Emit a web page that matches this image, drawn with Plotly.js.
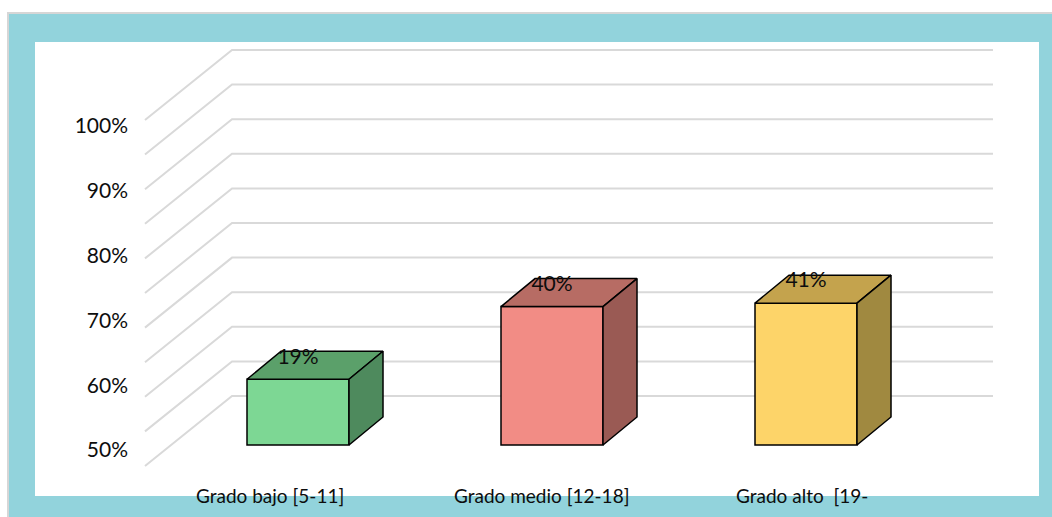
<!DOCTYPE html>
<html>
<head>
<meta charset="utf-8">
<script src="https://cdn.plot.ly/plotly-3.0.1.min.js"></script>
<style>
  html, body { margin: 0; padding: 0; background: #ffffff; }
  #chart { width: 1052px; height: 517px; }
</style>
</head>
<body>
<div id="chart"></div>
<script>
// ---- data ----
const categories = ["Grado bajo [5-11]", "Grado medio [12-18]", "Grado alto \u00a0[19-"];
const values = [19, 40, 41];
const valueLabels = ["19%", "40%", "41%"];
const gridValues = [0, 10, 20, 30, 40, 50, 60, 70, 80, 90, 100];
const yTickValues = [50, 60, 70, 80, 90, 100];
const yTickLabels = ["50%", "60%", "70%", "80%", "90%", "100%"];

// ---- style ----
const frontColors = ["#7DD794", "#F28C85", "#FDD469"];
const topColors   = ["#5BA06A", "#B76C64", "#C4A34D"];
const sideColors  = ["#4E8A5D", "#9A5A54", "#A08940"];
const FONT = "Lato, 'Open Sans', sans-serif";
const TEXT = "#0d0d0d";

const W = 1052, H = 517;
const M = {l: 140, r: 52, t: 40, b: 47};
const plotW = W - M.l - M.r, plotH = H - M.t - M.b;
const XR = [-0.62205, 2.76378];
const YR = [-7.225, 117.05];
const HALF = 0.2008;           // half bar width (category units)
const DX = 0.1339, DY = 8.092; // 3D depth offset
const WALL_X0 = -0.2598, WALL_X1 = 2.7362, WALL_DY = 14.162;
const FLOOR_X0 = -0.6024, FLOOR_DY = -6.069;
const LABEL_DY = 6.07;
const catLabelShift = [-0.110, -0.043, -0.016];

function paperX(px) { return (px - M.l) / plotW; }
function paperY(py) { return (H - M.b - py) / plotH; }

const traces = [];

// front faces
traces.push({type: "bar", x: categories.map((c, i) => i), y: values, base: 0,
  width: 2 * HALF, marker: {color: frontColors, line: {color: "#000000", width: 1.5}},
  hoverinfo: "skip"});

// top and side faces
values.forEach((v, i) => {
  traces.push({type: "scatter", mode: "lines", fill: "toself", fillcolor: topColors[i],
    x: [i - HALF, i + HALF, i + HALF + DX, i - HALF + DX, i - HALF],
    y: [v, v, v + DY, v + DY, v],
    line: {color: "#000000", width: 1.5}, hoverinfo: "skip"});
  traces.push({type: "scatter", mode: "lines", fill: "toself", fillcolor: sideColors[i],
    x: [i + HALF, i + HALF + DX, i + HALF + DX, i + HALF, i + HALF],
    y: [0, DY, v + DY, v, 0],
    line: {color: "#000000", width: 1.5}, hoverinfo: "skip"});
});

// data labels
traces.push({type: "scatter", mode: "text", x: values.map((v, i) => i),
  y: values.map(v => v + LABEL_DY), text: valueLabels,
  textposition: "middle center", textfont: {family: FONT, size: 21, color: TEXT},
  hoverinfo: "skip"});

// invisible trace for the label axis
traces.push({type: "scatter", mode: "markers", x: [0], y: [50], yaxis: "y2",
  marker: {opacity: 0}, hoverinfo: "skip"});

const annotations = categories.map((c, i) => ({
  text: c, x: i + catLabelShift[i], xref: "x", y: 0, yref: "paper",
  yanchor: "middle", xanchor: "center", yshift: -25, showarrow: false,
  font: {family: FONT, size: 19, color: TEXT}
}));

const shapes = [
  {type: "rect", layer: "below", xref: "paper", yref: "paper",
   x0: paperX(8), x1: paperX(1080), y0: paperY(13), y1: paperY(560),
   fillcolor: "#92D3DC", line: {color: "#D6D6D6", width: 2}},
  {type: "rect", layer: "below", xref: "paper", yref: "paper",
   x0: paperX(35), x1: paperX(1039), y0: paperY(42), y1: paperY(496),
   fillcolor: "#FFFFFF", line: {width: 0}}
];
// back-wall gridlines with diagonal floor segments (drawn beneath the bars)
gridValues.forEach(g => {
  shapes.push({type: "path", layer: "below", xref: "x", yref: "y",
    path: "M" + FLOOR_X0 + "," + (g + FLOOR_DY) + " L" + WALL_X0 + "," + (g + WALL_DY) +
          " L" + WALL_X1 + "," + (g + WALL_DY),
    line: {color: "#D9D9D9", width: 2}});
});

const layout = {
  width: W, height: H, margin: M,
  paper_bgcolor: "#FFFFFF", plot_bgcolor: "rgba(0,0,0,0)",
  showlegend: false, hovermode: false,
  xaxis: {range: XR, showgrid: false, zeroline: false, showline: false,
          showticklabels: false, ticks: "", fixedrange: true},
  yaxis: {range: YR, showgrid: false, zeroline: false, showline: false,
          showticklabels: false, ticks: "", fixedrange: true},
  yaxis2: {overlaying: "y", side: "left", range: [46.91, 113.27],
           tickvals: yTickValues, ticktext: yTickLabels, showgrid: false,
           zeroline: false, showline: false, ticks: "", ticklabelstandoff: 11,
           tickfont: {family: FONT, size: 21, color: TEXT}, fixedrange: true},
  shapes: shapes,
  annotations: annotations
};

Plotly.newPlot("chart", traces, layout, {displayModeBar: false, staticPlot: true});
</script>
</body>
</html>
